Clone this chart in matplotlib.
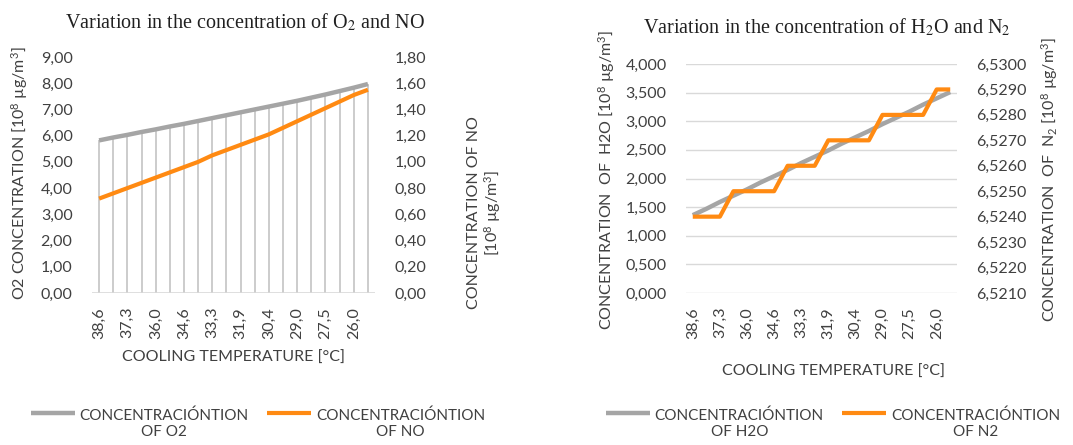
import matplotlib.pyplot as plt
import numpy as np

plt.rcParams['font.family'] = ['Lato', 'DejaVu Sans']
plt.rcParams['mathtext.fontset'] = 'custom'
plt.rcParams['mathtext.rm'] = 'Lato'
plt.rcParams['mathtext.it'] = 'Lato:italic'

# cooling temperature categories (every other one is labelled)
temps = [38.6, 37.9, 37.3, 36.6, 36.0, 35.3, 34.6, 34.0, 33.3, 32.6,
         31.9, 31.2, 30.4, 29.7, 29.0, 28.3, 27.5, 26.8, 26.0, 25.3]

o2 = [5.82, 5.93, 6.03, 6.14, 6.24, 6.35, 6.45, 6.56, 6.67, 6.78,
      6.89, 7.00, 7.11, 7.22, 7.33, 7.45, 7.57, 7.70, 7.83, 7.97]
no = [0.72, 0.76, 0.80, 0.84, 0.88, 0.92, 0.96, 1.00, 1.05, 1.09,
      1.13, 1.17, 1.21, 1.26, 1.31, 1.36, 1.41, 1.46, 1.51, 1.55]

h2o = [1.36, 1.47, 1.59, 1.70, 1.81, 1.93, 2.04, 2.15, 2.27, 2.38,
       2.49, 2.61, 2.72, 2.83, 2.95, 3.06, 3.17, 3.29, 3.40, 3.51]
n2 = [6.5240, 6.5240, 6.5240, 6.5250, 6.5250, 6.5250, 6.5250,
      6.5260, 6.5260, 6.5260, 6.5270, 6.5270, 6.5270, 6.5270,
      6.5280, 6.5280, 6.5280, 6.5280, 6.5290, 6.5290]

GRAY = '#a5a5a5'
ORANGE = '#ff8a12'
TXT = '#404040'
FS = 11.5
W, H = 1073, 445


def comma(v, nd):
    return f'{v:.{nd}f}'.replace('.', ',')


def style_cat_axis(ax, x):
    ax.set_xlim(-0.5, len(x) - 0.5)
    ax.set_xticks(x[::2])
    ax.set_xticklabels([comma(t, 1) for t in temps[::2]], rotation=90,
                       fontsize=FS, color=TXT)
    ax.tick_params(axis='x', length=0, pad=10)
    ax.tick_params(axis='y', length=0, pad=14, labelsize=FS, labelcolor=TXT)
    for s in ax.spines.values():
        s.set_visible(False)


def fx(px):
    return px / W


def fy(py):
    return 1 - py / H


fig = plt.figure(figsize=(W / 100, H / 100), dpi=100)
x = np.arange(len(temps))

# ---- left chart: O2 and NO ----
ax1 = fig.add_axes([fx(92), fy(293), fx(375) - fx(92), fy(57) - fy(293)])
ax1b = ax1.twinx()
style_cat_axis(ax1, x)
style_cat_axis(ax1b, x)
ax1.vlines(x, 0, o2, color='#c4c4c4', lw=1.2, zorder=1)
ax1.axhline(0, color='#d9d9d9', lw=1.2, zorder=1)
l_o2, = ax1.plot(x, o2, color=GRAY, lw=3.2, solid_capstyle='butt', zorder=2)
l_no, = ax1b.plot(x, no, color=ORANGE, lw=3.0, solid_capstyle='butt', zorder=3)
ax1.set_ylim(0, 9)
ax1.set_yticks(np.arange(0, 9.01, 1))
ax1.set_yticklabels([comma(v, 2) for v in np.arange(0, 9.01, 1)])
ax1b.set_ylim(0, 1.8)
ax1b.set_yticks(np.arange(0, 1.801, 0.2))
ax1b.set_yticklabels([comma(v, 2) for v in np.arange(0, 1.801, 0.2)])

fig.text(fx(245), fy(22), 'Variation in the concentration of O$_2$ and NO',
         family='Liberation Serif', fontsize=14.5, ha='center', va='center',
         color='#202020', math_fontfamily='stix')
fig.text(fx(20), fy(173), 'O2 CONCENTRATION [10$^8$ µg/m$^3$]', rotation=90,
         ha='center', va='center', fontsize=FS, color=TXT)
fig.text(fx(485), fy(213), 'CONCENTRATION OF NO\n[10$^8$ µg/m$^3$]', rotation=90,
         ha='center', va='center', fontsize=FS, color=TXT, multialignment='center',
         linespacing=1.1)
fig.text(fx(233), fy(358), 'COOLING TEMPERATURE [°C]', ha='center', va='center',
         fontsize=FS, color=TXT)

# ---- right chart: H2O and N2 ----
ax2 = fig.add_axes([fx(686), fy(293), fx(957) - fx(686), fy(64) - fy(293)])
ax2b = ax2.twinx()
style_cat_axis(ax2, x)
style_cat_axis(ax2b, x)
ax2.set_ylim(0, 4)
ax2.set_yticks(np.arange(0, 4.01, 0.5))
ax2.set_yticklabels([comma(v, 3) for v in np.arange(0, 4.01, 0.5)])
ax2.grid(axis='y', color='#d9d9d9', lw=1.0)
ax2.set_axisbelow(True)
l_h2o, = ax2.plot(x, h2o, color=GRAY, lw=3.2, solid_capstyle='butt', zorder=2)
n2_ticks = np.arange(6.5210, 6.53005, 0.001)
ax2b.set_ylim(6.5210, 6.5300)
ax2b.set_yticks(n2_ticks)
ax2b.set_yticklabels([comma(v, 4) for v in n2_ticks])
l_n2, = ax2b.plot(x, n2, color=ORANGE, lw=3.0, solid_capstyle='butt', zorder=3)

fig.text(fx(827), fy(27), 'Variation in the concentration of H$_2$O and N$_2$',
         family='Liberation Serif', fontsize=14.5, ha='center', va='center',
         color='#202020', math_fontfamily='stix')
fig.text(fx(607), fy(180), 'CONCENTRATION  OF  H2O [10$^8$ µg/m$^3$]', rotation=90,
         ha='center', va='center', fontsize=FS, color=TXT)
fig.text(fx(1050), fy(180), 'CONCENTRATION  OF  N$_2$ [10$^8$ µg/m$^3$]', rotation=90,
         ha='center', va='center', fontsize=FS, color=TXT)
fig.text(fx(833), fy(372), 'COOLING TEMPERATURE [°C]', ha='center', va='center',
         fontsize=FS, color=TXT)

# ---- legends ----
def add_legend(handles, labels, cx):
    leg = fig.legend(handles, labels, loc='center', bbox_to_anchor=(fx(cx), fy(424)),
                     ncol=2, frameon=False, fontsize=11, handlelength=2.9,
                     handletextpad=0.3, columnspacing=1.2)
    for t in leg.get_texts():
        t.set_multialignment('center')
        t.set_color(TXT)
    for h in leg.legend_handles:
        h.set_ydata(np.asarray(h.get_ydata()) + 8)
    return leg


add_legend([l_o2, l_no], ['CONCENTRACIÓNTION\nOF O2', 'CONCENTRACIÓNTION\nOF NO'], 258)
add_legend([l_h2o, l_n2], ['CONCENTRACIÓNTION\nOF H2O', 'CONCENTRACIÓNTION\nOF N2'], 833)

fig.savefig('out.png', dpi=100)
